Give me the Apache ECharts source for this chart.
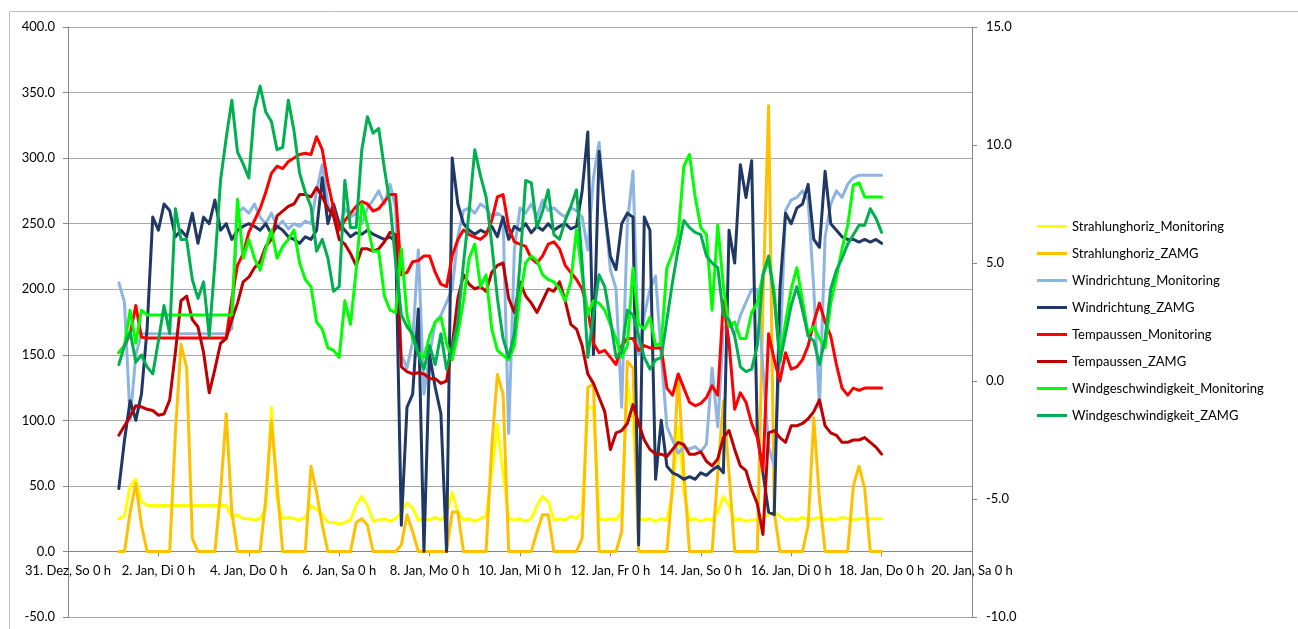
<!DOCTYPE html>
<html>
<head>
<meta charset="utf-8">
<script src="https://cdn.jsdelivr.net/npm/echarts@6/dist/echarts.min.js"></script>
<style>
  html, body { margin: 0; padding: 0; background: #fff; }
  #chart { width: 1298px; height: 629px; }
</style>
</head>
<body>
<div id="chart"></div>
<script>
// x axis: hours since 31. Dez 0 h, one label every 48 h
const tickLabels = [
  '31. Dez, So 0 h', '2. Jan, Di 0 h', '4. Jan, Do 0 h', '6. Jan, Sa 0 h',
  '8. Jan, Mo 0 h', '10. Jan, Mi 0 h', '12. Jan, Fr 0 h', '14. Jan, So 0 h',
  '16. Jan, Di 0 h', '18. Jan, Do 0 h', '20. Jan, Sa 0 h'
]
// samples every 3 h, first one at 1. Jan 3 h
const startHour = 27
const stepHours = 3

const seriesNames = [
  'Strahlunghoriz_Monitoring', 'Strahlunghoriz_ZAMG',
  'Windrichtung_Monitoring', 'Windrichtung_ZAMG',
  'Tempaussen_Monitoring', 'Tempaussen_ZAMG',
  'Windgeschwindigkeit_Monitoring', 'Windgeschwindigkeit_ZAMG'
]

// left axis
const strahlMon = [
  25, 27, 50, 55, 38, 35, 35, 35,
  35, 35, 35, 35, 35, 35, 35, 35,
  35, 35, 35, 35, 26, 28, 25, 25,
  24, 25, 33, 110, 40, 25, 26, 25,
  24, 26, 35, 32, 28, 22, 22, 21,
  22, 24, 35, 42, 35, 23, 24, 25,
  23, 25, 30, 37, 33, 24, 25, 24,
  26, 24, 28, 45, 30, 24, 25, 23,
  25, 27, 60, 97, 60, 25, 24, 25,
  23, 25, 35, 42, 38, 24, 25, 24,
  27, 25, 30, 110, 110, 25, 24, 25,
  24, 30, 130, 100, 25, 24, 25, 23,
  25, 24, 45, 95, 45, 24, 25, 23,
  25, 24, 30, 42, 35, 24, 25, 23,
  24, 24, 26, 28, 30, 27, 24, 25,
  24, 26, 24, 25, 26, 24, 25, 24,
  26, 25, 24, 25, 25, 25, 25, 25
]
const strahlZamg = [
  0, 0, 30, 52, 20, 0, 0, 0,
  0, 0, 90, 158, 140, 10, 0, 0,
  0, 0, 45, 105, 30, 0, 0, 0,
  0, 0, 40, 100, 50, 0, 0, 0,
  0, 0, 65, 45, 20, 0, 0, 0,
  0, 0, 22, 25, 20, 0, 0, 0,
  0, 0, 5, 28, 15, 0, 0, 0,
  0, 0, 0, 30, 30, 0, 0, 0,
  0, 0, 80, 135, 120, 0, 0, 0,
  0, 0, 15, 28, 28, 0, 0, 0,
  0, 0, 10, 125, 128, 0, 0, 0,
  0, 15, 145, 140, 0, 0, 0, 0,
  0, 0, 50, 135, 60, 0, 0, 0,
  0, 0, 60, 115, 60, 0, 0, 0,
  0, 0, 190, 340, 30, 0, 0, 0,
  0, 0, 20, 102, 40, 0, 0, 0,
  0, 0, 50, 65, 48, 0, 0, 0
]
const windDirMon = [
  205, 190, 100, 150, 166, 166, 166, 166,
  166, 166, 166, 166, 166, 166, 166, 166,
  166, 166, 166, 166, 170, 258, 262, 258,
  265, 255, 250, 258, 248, 252, 246, 250,
  248, 252, 250, 275, 295, 265, 255, 245,
  262, 255, 258, 250, 262, 268, 275, 265,
  280, 262, 150, 140, 160, 230, 120, 150,
  175, 180, 190, 200, 240, 260, 262, 258,
  265, 262, 255, 258, 255, 90, 230, 262,
  258, 265, 255, 268, 260, 262, 258, 255,
  262, 260, 255, 230, 285, 312, 260, 215,
  200, 110, 250, 290, 150, 180, 200, 210,
  150, 95, 85, 75, 80, 78, 80, 76,
  82, 140, 95, 170, 175, 165, 180, 190,
  200, 200, 140, 80, 65, 150, 260, 268,
  270, 275, 268, 200, 110, 240, 265, 275,
  270, 280, 285, 287, 287, 287, 287, 287
]
const windDirZamg = [
  48, 85, 115, 100, 120, 170, 255, 245,
  265, 260, 240, 245, 240, 258, 235, 255,
  250, 268, 245, 250, 238, 245, 248, 250,
  248, 245, 250, 242, 248, 245, 240, 238,
  235, 240, 238, 245, 285, 250, 265, 250,
  245, 240, 243, 242, 245, 242, 240, 238,
  240, 236, 20, 110, 120, 185, 0, 150,
  125, 105, 0, 300, 265, 250, 245, 242,
  245, 243, 248, 240, 255, 238, 248, 245,
  250, 243, 248, 245, 250, 245, 248, 250,
  246, 248, 275, 320, 150, 305, 260, 225,
  215, 250, 258, 255, 5, 255, 245, 55,
  100, 65, 60, 58, 55, 57, 55, 60,
  58, 62, 65, 60, 245, 220, 295, 270,
  298, 90, 60, 30, 28, 200, 258, 250,
  262, 265, 280, 238, 232, 290, 250, 245,
  240, 238, 238, 236, 238, 236, 238, 235
]

// right axis
const tempMon = [
  1.2, 1.5, 2.0, 3.2, 1.85, 1.82, 1.82, 1.82,
  1.82, 1.82, 1.82, 1.82, 1.82, 1.82, 1.82, 1.82,
  1.82, 1.82, 1.82, 1.82, 3.5, 4.9, 5.4, 6.3,
  6.8, 7.3, 8.0, 8.8, 9.1, 9.0, 9.3, 9.45,
  9.6, 9.65, 9.6, 10.35, 9.8, 8.4, 7.3, 6.4,
  6.8, 7.1, 7.4, 7.6, 7.5, 7.2, 7.3, 7.6,
  7.9, 7.9, 4.5, 4.6, 5.05, 5.1, 5.3, 5.3,
  4.6, 4.1, 4.0, 5.3, 6.0, 6.4, 6.2, 6.1,
  6.0, 6.2, 6.8, 7.8, 7.9, 6.5, 5.9, 5.8,
  5.7, 5.2, 5.0, 5.3, 5.8, 5.9, 5.6, 4.9,
  4.6, 4.3, 3.9, 3.0, 1.6, 1.2, 1.3, 1.0,
  0.7, 1.5, 1.8, 1.8, 1.3, 1.5, 1.4, 1.4,
  1.4, -0.3, -0.6, 0.3, -0.3, -0.9, -1.05, -0.95,
  -0.7, -0.2, -0.6, 3.4, 1.6, -1.2, -0.5, -0.9,
  -1.8, -2.4, -3.8, 2.0, 0.9, 0.0, 1.2, 0.5,
  0.6, 0.9, 1.5, 2.5, 3.3, 2.5, 1.9, 0.7,
  -0.3, -0.6, -0.3, -0.4, -0.3, -0.3, -0.3, -0.3
]
const tempZamg = [
  -2.3, -1.9, -1.5, -1.05, -1.1, -1.2, -1.25, -1.45,
  -1.4, -0.8, 1.2, 3.4, 3.6, 2.6, 2.3, 1.2,
  -0.5, 0.5, 1.6, 1.8, 2.6, 3.3, 4.2, 4.4,
  4.8, 5.05, 5.7, 6.0, 7.0, 7.2, 7.4, 7.5,
  7.9, 7.9, 7.8, 8.2, 7.8, 7.3, 7.0, 6.0,
  5.8, 5.4, 4.9, 5.6, 5.6, 5.5, 5.6, 5.9,
  6.3, 6.2, 0.6, 0.4, 0.3, 0.35, 0.3, 0.1,
  0.1, -0.1, 0.0, 1.5, 3.5, 4.5, 4.1, 3.9,
  4.0, 3.8, 4.6, 4.9, 5.0, 3.5, 2.9, 4.2,
  3.6, 3.3, 2.9, 3.4, 3.9, 3.8, 4.2, 3.4,
  2.4, 2.2, 1.5, 0.3, -0.1, -0.7, -1.3, -2.9,
  -2.2, -2.1, -1.8, -1.0, -1.8, -2.5, -2.9, -3.1,
  -3.1, -3.2, -2.9, -2.6, -2.7, -3.1, -3.1, -3.0,
  -3.4, -3.6, -3.3, -2.4, -2.1, -2.9, -3.6, -3.8,
  -4.6, -5.2, -6.5, -2.2, -2.1, -2.4, -2.6, -1.9,
  -1.9, -1.8, -1.6, -1.3, -0.8, -1.9, -2.2, -2.3,
  -2.6, -2.6, -2.5, -2.5, -2.4, -2.6, -2.8, -3.1
]
const windSpeedMon = [
  1.2, 1.5, 3.0, 1.6, 3.0, 2.8, 2.8, 2.8,
  2.8, 2.8, 2.8, 2.8, 2.8, 2.8, 2.8, 2.8,
  2.8, 2.8, 2.8, 2.8, 2.8, 7.7, 5.2, 6.0,
  5.2, 4.7, 5.6, 6.4, 5.2, 5.7, 6.0, 6.4,
  5.0, 4.3, 4.0, 2.5, 2.2, 1.4, 1.3, 1.0,
  3.4, 2.4, 4.7, 7.5, 6.6, 5.5, 5.5, 3.6,
  3.0, 2.9, 5.6, 2.8, 1.8, 1.2, 1.0, 1.9,
  2.5, 2.7, 1.6, 0.9, 2.0, 3.4, 5.2, 5.8,
  4.0, 4.5, 2.2, 1.3, 1.1, 0.9, 1.5, 3.6,
  5.0, 5.3, 5.1, 4.5, 4.3, 4.2, 3.9, 3.4,
  4.2, 6.4, 4.5, 2.8, 3.4, 3.3, 3.0, 2.4,
  1.8, 1.0, 1.5, 4.8, 2.4, 2.2, 2.7, 1.5,
  1.6, 4.8, 5.4, 6.2, 9.1, 9.6, 7.8, 6.5,
  6.2, 3.0, 6.6, 4.0, 2.3, 2.5, 1.8, 1.8,
  2.9, 3.3, 4.5, 5.1, 3.8, 1.0, 2.5, 3.9,
  4.8, 3.4, 2.0, 2.3, 1.8, 1.4, 3.3, 4.4,
  5.6, 6.6, 8.3, 8.4, 7.8, 7.8, 7.8, 7.8
]
const windSpeedZamg = [
  0.7, 1.5, 2.1, 0.8, 1.1, 0.6, 0.3, 1.7,
  3.2, 2.0, 7.3, 6.0, 6.0, 4.3, 3.5, 4.2,
  1.9, 5.0, 8.5, 10.3, 11.9, 9.7, 9.2, 8.6,
  11.5, 12.5, 11.4, 11.0, 9.8, 9.9, 11.9, 10.6,
  8.8, 8.0, 7.4, 5.5, 6.0, 5.2, 3.8, 4.0,
  8.5, 6.5, 6.5, 9.8, 11.2, 10.5, 10.7, 9.0,
  7.5, 5.0, 2.8, 2.3, 2.0, 1.1, 0.5, 1.5,
  0.7, 2.0, 0.5, 1.4, 2.5, 5.0, 7.2, 9.8,
  8.7, 7.8, 5.8, 3.5, 1.8, 1.0, 2.0, 5.0,
  8.5, 8.4, 6.5, 7.2, 8.1, 6.2, 6.0, 6.8,
  7.4, 8.1, 5.0, 1.0, 2.8, 4.5, 4.0, 2.6,
  1.0, 1.2, 3.0, 2.8, 1.9, 1.0, 0.5, 0.9,
  1.0, 2.6, 4.2, 5.6, 6.8, 6.5, 6.3, 6.2,
  5.3, 5.0, 4.8, 2.8, 2.6, 1.9, 0.6, 0.4,
  0.5, 1.5, 4.5, 5.3, 3.5, 0.8, 2.0, 3.2,
  4.0, 3.0, 1.9, 1.7, 0.7, 1.8, 3.9, 4.7,
  5.2, 5.8, 6.2, 6.6, 6.6, 7.3, 6.9, 6.3
]

const FONT = 'Lato'
const AXIS_GRAY = '#868686'
const GRID_TOP = 27
const GRID_BOTTOM = 12
const CHART_H = 629
const LEFT_MIN = -50
const LEFT_MAX = 400

// the category axis crosses the left value axis at 0, as in the spreadsheet
const plotH = CHART_H - GRID_TOP - GRID_BOTTOM
const zeroShift = plotH * (0 - LEFT_MIN) / (LEFT_MAX - LEFT_MIN)

function toPoints(values) {
  return values.map((v, i) => [startHour + i * stepHours, v])
}

function makeLine(name, values, color, yAxisIndex) {
  return {
    name: name,
    type: 'line',
    yAxisIndex: yAxisIndex,
    data: toPoints(values),
    showSymbol: false,
    symbol: 'none',
    lineStyle: { color: color, width: 3, join: 'round', cap: 'round' },
    itemStyle: { color: color },
    emphasis: { disabled: true }
  }
}

const chart = echarts.init(document.getElementById('chart'), null, { renderer: 'canvas' })

chart.setOption({
  backgroundColor: '#ffffff',
  animation: false,
  textStyle: { fontFamily: FONT },
  graphic: [
    {
      type: 'rect',
      left: 7,
      top: 9,
      shape: { width: 1289, height: 640 },
      style: { fill: 'none', stroke: '#BFBFBF', lineWidth: 1 },
      silent: true
    }
  ],
  grid: {
    left: 68,
    right: 326,
    top: GRID_TOP,
    bottom: GRID_BOTTOM,
    containLabel: false,
    outerBoundsMode: 'none'
  },
  legend: {
    orient: 'vertical',
    left: 1037,
    top: 219,
    padding: 0,
    icon: 'rect',
    itemWidth: 30,
    itemHeight: 3,
    itemGap: 12,
    data: seriesNames,
    textStyle: { fontFamily: FONT, fontSize: 13, color: '#000', lineHeight: 15 }
  },
  xAxis: {
    type: 'value',
    min: 0,
    max: 480,
    interval: 48,
    offset: -zeroShift,
    axisLine: { onZero: false, lineStyle: { color: AXIS_GRAY, width: 1 } },
    axisTick: { show: true, length: 5, lineStyle: { color: AXIS_GRAY } },
    splitLine: { show: false },
    axisLabel: {
      color: '#000',
      fontFamily: FONT,
      fontSize: 13,
      margin: 13,
      formatter: function (v) { return tickLabels[Math.round(v / 48)] || '' }
    }
  },
  yAxis: [
    {
      type: 'value',
      position: 'left',
      min: LEFT_MIN,
      max: LEFT_MAX,
      interval: 50,
      axisLine: { show: true, onZero: false, lineStyle: { color: AXIS_GRAY } },
      axisTick: { show: true, length: 5, lineStyle: { color: AXIS_GRAY } },
      splitLine: { show: true, lineStyle: { color: '#A6A6A6', width: 1 } },
      axisLabel: {
        color: '#000',
        fontFamily: FONT,
        fontSize: 13,
        margin: 13,
        formatter: function (v) { return v.toFixed(1) }
      }
    },
    {
      type: 'value',
      position: 'right',
      min: -10,
      max: 15,
      interval: 5,
      axisLine: { show: true, onZero: false, lineStyle: { color: AXIS_GRAY } },
      axisTick: { show: true, length: 5, lineStyle: { color: AXIS_GRAY } },
      splitLine: { show: false },
      axisLabel: {
        color: '#000',
        fontFamily: FONT,
        fontSize: 13,
        margin: 14,
        formatter: function (v) { return v.toFixed(1) }
      }
    }
  ],
  series: [
    makeLine(seriesNames[0], strahlMon, '#FFFF00', 0),
    makeLine(seriesNames[1], strahlZamg, '#FFC000', 0),
    makeLine(seriesNames[2], windDirMon, '#8EB4E3', 0),
    makeLine(seriesNames[3], windDirZamg, '#1F3864', 0),
    makeLine(seriesNames[4], tempMon, '#FF0000', 1),
    makeLine(seriesNames[5], tempZamg, '#C00000', 1),
    makeLine(seriesNames[6], windSpeedMon, '#00FF00', 1),
    makeLine(seriesNames[7], windSpeedZamg, '#00B050', 1)
  ]
})
</script>
</body>
</html>
